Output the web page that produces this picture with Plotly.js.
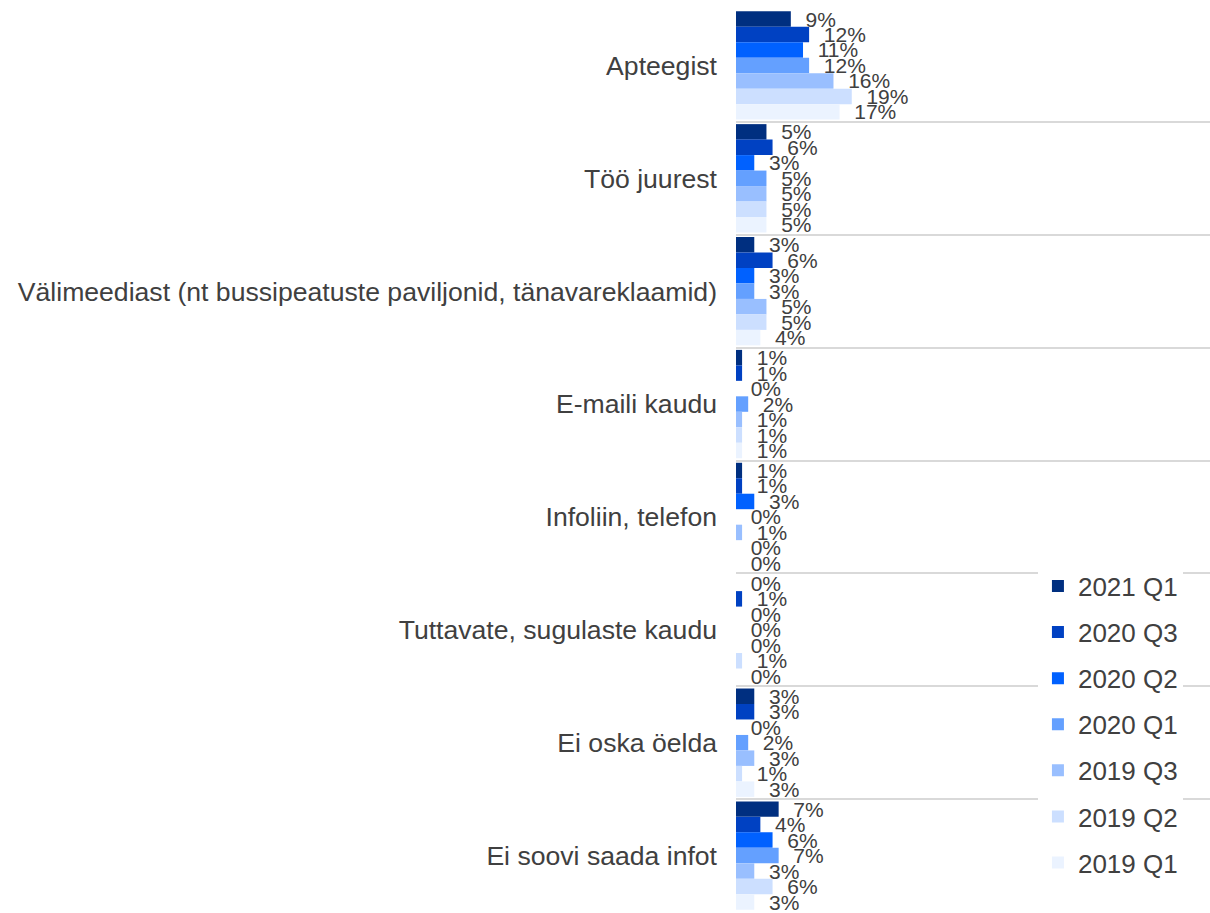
<!DOCTYPE html>
<html>
<head>
<meta charset="utf-8">
<script src="https://cdn.plot.ly/plotly-3.0.1.min.js"></script>
<style>html,body{margin:0;padding:0;background:#fff;}#chart{width:1210px;height:913px;}</style>
</head>
<body>
<div id="chart"></div>
<script>
const categories = [
  "Apteegist",
  "Töö juurest",
  "Välimeediast (nt bussipeatuste paviljonid, tänavareklaamid)",
  "E-maili kaudu",
  "Infoliin, telefon",
  "Tuttavate, sugulaste kaudu",
  "Ei oska öelda",
  "Ei soovi saada infot"
];
const seriesNames = ["2021 Q1", "2020 Q3", "2020 Q2", "2020 Q1", "2019 Q3", "2019 Q2", "2019 Q1"];
const s2021Q1 = [9, 5, 3, 1, 1, 0, 3, 7];
const s2020Q3 = [12, 6, 6, 1, 1, 1, 3, 4];
const s2020Q2 = [11, 3, 3, 0, 3, 0, 0, 6];
const s2020Q1 = [12, 5, 3, 2, 0, 0, 2, 7];
const s2019Q3 = [16, 5, 5, 1, 1, 0, 3, 3];
const s2019Q2 = [19, 5, 5, 1, 0, 1, 1, 6];
const s2019Q1 = [17, 5, 4, 1, 0, 0, 3, 3];
const seriesValues = [s2021Q1, s2020Q3, s2020Q2, s2020Q1, s2019Q3, s2019Q2, s2019Q1];
const seriesColors = ["#002f80", "#0041c2", "#0061ff", "#64a0ff", "#99bfff", "#ccdfff", "#ebf3ff"];

const FONT = "Liberation Sans, Arial, sans-serif";
const traces = seriesNames.map((name, i) => ({
  type: "bar",
  orientation: "h",
  name: name,
  legendgroup: name,
  y: categories,
  x: seriesValues[i],
  marker: {color: seriesColors[i], line: {width: 0}},
  texttemplate: "\u00a0\u00a0%{x}%",
  textposition: "outside",
  constraintext: "none",
  cliponaxis: false,
  textfont: {family: FONT, size: 21, color: "#404040"},
  hoverinfo: "skip"
}));

const layout = {
  width: 1210,
  height: 913,
  margin: {l: 736, r: 0, t: 9, b: 1},
  paper_bgcolor: "#ffffff",
  plot_bgcolor: "#ffffff",
  barmode: "group",
  bargap: 0.04,
  bargroupgap: 0,
  font: {family: FONT, color: "#404040"},
  xaxis: {
    range: [0, 77.8],
    showgrid: false,
    zeroline: false,
    showline: false,
    showticklabels: false,
    ticks: ""
  },
  yaxis: {
    type: "category",
    categoryorder: "array",
    categoryarray: categories,
    autorange: "reversed",
    tickson: "boundaries",
    showgrid: true,
    gridcolor: "#d9d9d9",
    gridwidth: 2,
    zeroline: false,
    showline: false,
    ticks: "",
    ticklabelstandoff: 18,
    tickfont: {family: FONT, size: 26.6, color: "#404040"}
  },
  legend: {
    x: 0.637,
    xanchor: "left",
    y: 0.387,
    yanchor: "top",
    bgcolor: "#ffffff",
    borderwidth: 0,
    traceorder: "grouped",
    tracegroupgap: 9.3,
    font: {family: FONT, size: 26, color: "#404040"}
  },
  showlegend: true
};

Plotly.newPlot("chart", traces, layout, {displayModeBar: false, staticPlot: true});
</script>
</body>
</html>
